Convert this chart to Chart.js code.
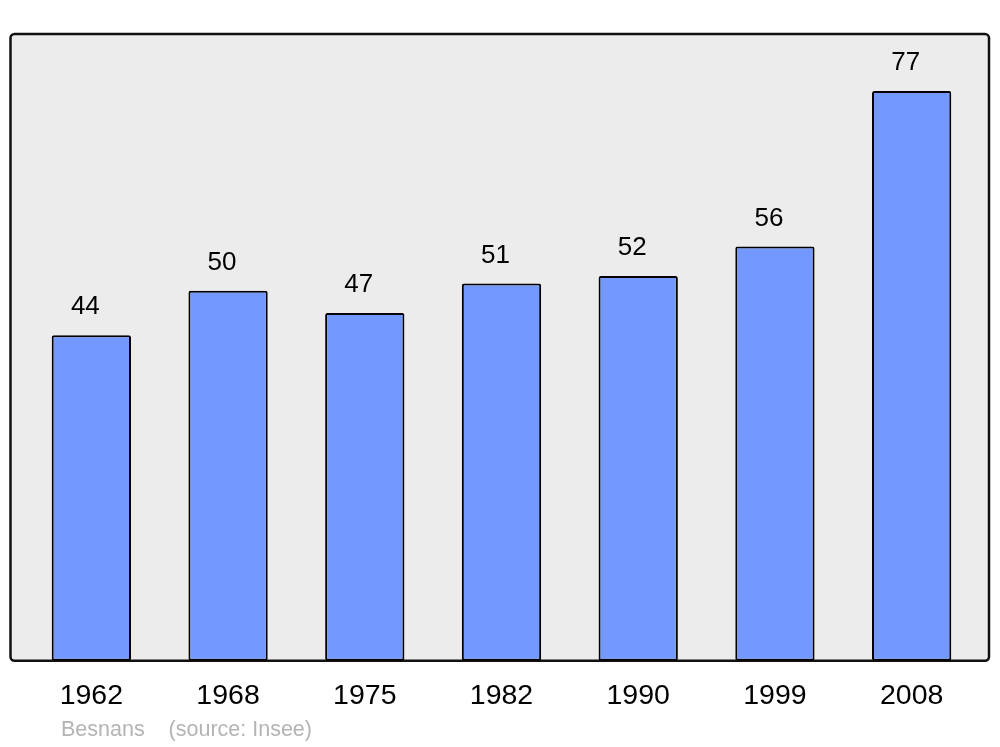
<!DOCTYPE html>
<html>
<head>
    <meta charset="utf-8">
    <title>Besnans population</title>
    <style>
        html, body { margin: 0; padding: 0; background: #ffffff; }
        canvas { display: block; }
    </style>
</head>
<body>
    <canvas id="chart" width="1000" height="747"></canvas>

    <script src="https://cdn.jsdelivr.net/npm/chart.js"></script>
    <script>
        // données
        const years = ['1962', '1968', '1975', '1982', '1990', '1999', '2008'];
        const population = [44, 50, 47, 51, 52, 56, 77];
        const yMin = 0;
        const yMax = 84.7;
        const sourceText = 'Besnans    (source: Insee)';

        // grey frame behind the bars
        const framePlugin = {
            id: 'frame',
            beforeDatasetsDraw(chart) {
                const a = chart.chartArea;
                const ctx = chart.ctx;
                const l = a.left - 12.5, r = a.right + 9, t = a.top, b = a.bottom;
                ctx.save();
                ctx.beginPath();
                ctx.roundRect(l, t, r - l, b - t, 4);
                ctx.fillStyle = '#ececec';
                ctx.fill();
                ctx.lineWidth = 2.5;
                ctx.strokeStyle = '#111111';
                ctx.stroke();
                ctx.restore();
            }
        };

        // value labels above bars + source line
        const labelPlugin = {
            id: 'labels',
            afterDatasetsDraw(chart) {
                const ctx = chart.ctx;
                const meta = chart.getDatasetMeta(0);
                ctx.save();
                ctx.fillStyle = '#000000';
                ctx.font = '26px "Liberation Sans", Arial, sans-serif';
                ctx.textAlign = 'center';
                ctx.textBaseline = 'middle';
                meta.data.forEach((bar, i) => {
                    ctx.fillText(String(population[i]), bar.x - 6, bar.y - 28);
                });
                ctx.fillStyle = '#b4b4b4';
                ctx.font = '21.5px "Liberation Sans", Arial, sans-serif';
                ctx.textAlign = 'left';
                ctx.fillText(sourceText, chart.chartArea.left + 38, 730);
                ctx.restore();
            }
        };

        new Chart(document.getElementById('chart'), {
            type: 'bar',
            data: {
                labels: years,
                datasets: [{
                    data: population,
                    backgroundColor: '#7399ff',
                    borderColor: '#000000',
                    borderWidth: 2,
                    borderRadius: 2,
                    borderSkipped: false,
                    barPercentage: 0.58,
                    categoryPercentage: 1.0
                }]
            },
            options: {
                responsive: false,
                animation: false,
                devicePixelRatio: 1,
                layout: { padding: { left: 23, right: 20, top: 34, bottom: 24 } },
                plugins: {
                    legend: { display: false },
                    tooltip: { enabled: false }
                },
                scales: {
                    x: {
                        grid: { display: false },
                        border: { display: false },
                        ticks: {
                            color: '#000000',
                            padding: 10,
                            font: { family: '"Liberation Sans", Arial, sans-serif', size: 28.5 }
                        }
                    },
                    y: {
                        display: false,
                        min: yMin,
                        max: yMax
                    }
                }
            },
            plugins: [framePlugin, labelPlugin]
        });
    </script>
</body>
</html>
